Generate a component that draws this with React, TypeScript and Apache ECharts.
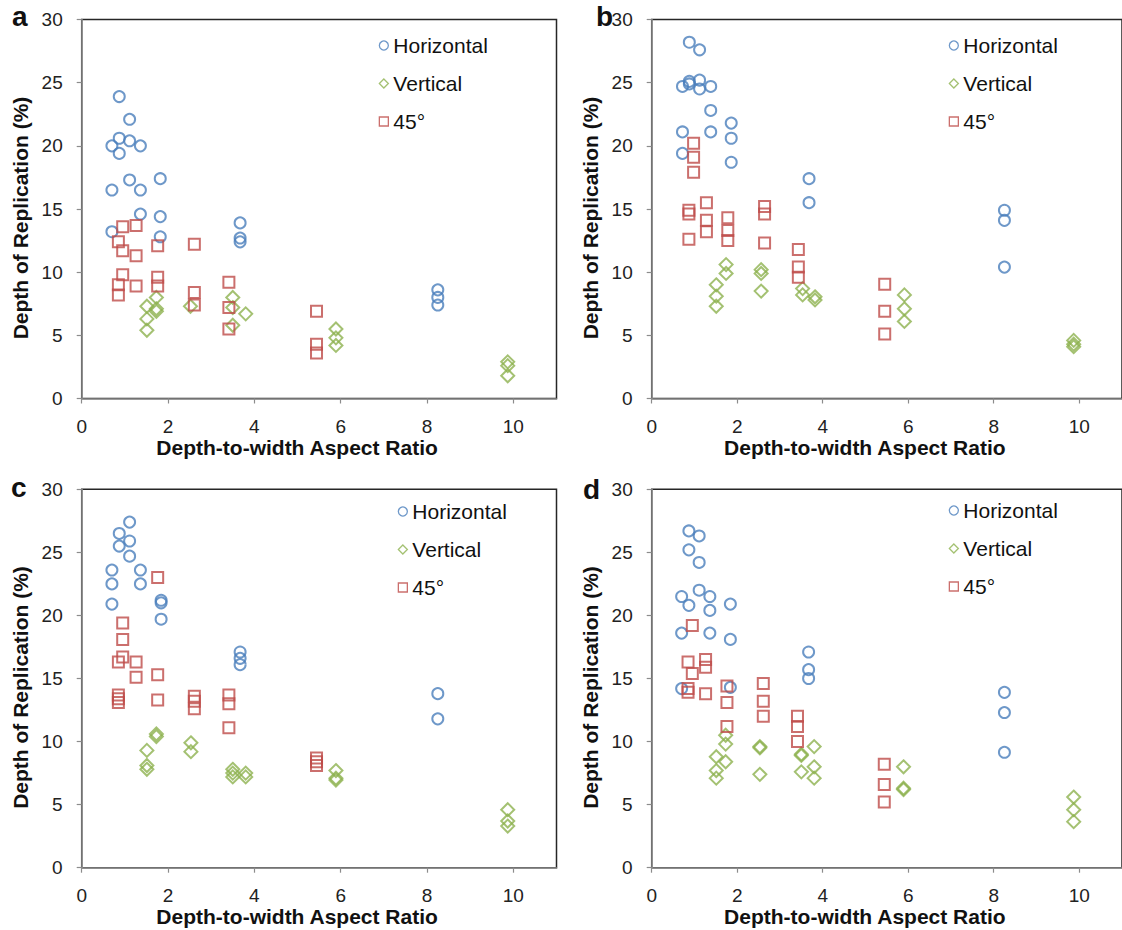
import React, { useEffect, useRef } from "react";
import * as echarts from "echarts";

// ---- Data (aspect ratio, depth of replication %) ----
const aHorizontal = [[0.87,23.9],[1.11,22.1],[0.87,20.6],[0.70,20.0],[0.87,19.4],[1.11,20.4],[1.36,20.0],[1.11,17.3],[0.70,16.5],[1.36,16.5],[1.82,17.4],[1.36,14.6],[1.82,14.4],[0.70,13.2],[1.82,12.8],[3.67,13.9],[3.67,12.7],[3.67,12.4],[8.25,8.6],[8.25,8.0],[8.25,7.4]];
const aVertical = [[1.73,8.0],[1.51,7.3],[1.73,7.1],[1.73,6.9],[1.51,6.3],[1.51,5.4],[2.52,7.3],[3.50,8.0],[3.50,7.2],[3.80,6.7],[3.50,5.8],[5.89,5.5],[5.89,4.8],[5.89,4.2],[9.87,2.9],[9.87,2.6],[9.87,1.8]];
const a45 = [[0.95,13.6],[1.26,13.7],[0.85,12.4],[0.95,11.7],[1.26,11.3],[1.76,12.1],[2.61,12.2],[0.95,9.8],[0.85,9.0],[0.85,8.2],[1.26,8.9],[1.76,9.6],[1.76,8.9],[2.61,8.4],[2.61,7.4],[3.41,9.2],[3.41,7.2],[3.41,5.5],[5.44,6.9],[5.44,4.3],[5.44,3.6]];

const bHorizontal = [[0.88,28.2],[1.12,27.6],[0.72,24.7],[0.88,24.9],[0.88,25.1],[1.12,25.2],[1.12,24.5],[1.38,24.7],[1.38,22.8],[0.72,21.1],[1.38,21.1],[1.86,21.8],[1.86,20.6],[1.86,18.7],[0.72,19.4],[3.68,17.4],[3.68,15.5],[8.25,14.9],[8.25,14.1],[8.25,10.4]];
const bVertical = [[1.74,10.6],[1.74,9.9],[1.51,9.0],[1.51,8.1],[1.51,7.3],[2.56,10.2],[2.56,9.9],[2.56,8.5],[3.53,8.7],[3.53,8.2],[3.82,8.05],[3.82,7.8],[5.91,8.2],[5.91,7.1],[5.91,6.1],[9.87,4.6],[9.87,4.3],[9.87,4.1]];
const b45 = [[0.98,20.2],[0.98,19.1],[0.98,17.9],[0.87,14.9],[0.87,14.6],[0.87,12.6],[1.28,15.5],[1.28,14.1],[1.28,13.2],[1.78,14.3],[1.78,13.3],[1.78,12.5],[2.64,15.2],[2.64,14.6],[2.64,12.3],[3.43,11.8],[3.43,10.4],[3.43,9.6],[5.45,9.05],[5.45,6.9],[5.45,5.1]];

const cHorizontal = [[1.11,27.4],[0.87,26.5],[1.11,25.9],[0.87,25.5],[1.11,24.7],[0.70,23.6],[1.36,23.6],[0.70,22.5],[1.36,22.5],[0.70,20.9],[1.84,21.2],[1.84,21.0],[1.84,19.7],[3.67,17.1],[3.67,16.6],[3.67,16.1],[8.25,13.8],[8.25,11.8]];
const cVertical = [[1.73,10.6],[1.73,10.4],[1.51,9.3],[1.51,8.1],[1.51,7.8],[2.53,9.9],[2.53,9.2],[3.50,7.8],[3.50,7.5],[3.50,7.2],[3.80,7.5],[3.80,7.2],[5.89,7.7],[5.89,7.1],[5.89,6.95],[9.87,4.6],[9.87,3.7],[9.87,3.3]];
const c45 = [[1.76,23.0],[0.95,19.4],[0.95,18.1],[0.95,16.7],[0.85,16.3],[1.26,16.3],[1.26,15.1],[1.76,15.3],[0.85,13.7],[0.85,13.4],[0.85,13.1],[1.76,13.3],[2.61,13.6],[2.61,13.2],[2.61,12.6],[3.41,13.7],[3.41,13.0],[3.41,11.1],[5.44,8.7],[5.44,8.4],[5.44,8.1]];

const dHorizontal = [[0.87,26.7],[1.11,26.3],[0.87,25.2],[1.11,24.2],[1.11,22.0],[0.70,21.5],[1.36,21.5],[0.87,20.8],[1.36,20.4],[1.84,20.9],[0.70,18.6],[1.36,18.6],[1.84,18.1],[0.70,14.2],[1.84,14.3],[3.67,17.1],[3.67,15.7],[3.67,15.0],[8.25,13.9],[8.25,12.3],[8.25,9.15]];
const dVertical = [[1.73,10.5],[1.73,9.8],[1.73,8.4],[1.51,8.8],[1.51,7.7],[1.51,7.1],[2.53,9.6],[2.53,9.5],[2.53,7.4],[3.50,9.0],[3.50,8.9],[3.50,7.6],[3.80,9.6],[3.80,8.0],[3.80,7.1],[5.89,8.0],[5.89,6.3],[5.89,6.2],[9.87,5.6],[9.87,4.6],[9.87,3.65]];
const d45 = [[0.95,19.2],[0.85,16.3],[1.26,16.5],[1.26,15.9],[0.95,15.4],[0.85,14.2],[0.85,13.9],[1.26,13.8],[1.76,14.4],[1.76,13.1],[1.76,11.2],[2.61,14.6],[2.61,13.2],[2.61,12.0],[3.41,12.0],[3.41,11.2],[3.41,10.0],[5.44,8.2],[5.44,6.6],[5.44,5.2]];

const seriesNames = ["Horizontal", "Vertical", "45°"];
const panelLabels = ["a", "b", "c", "d"];
const xTicks = [0, 2, 4, 6, 8, 10];
const xTitle = "Depth-to-width Aspect Ratio";
const yTitle = "Depth of Replication (%)";

const panels = [
  [aHorizontal, aVertical, a45],
  [bHorizontal, bVertical, b45],
  [cHorizontal, cVertical, c45],
  [dHorizontal, dVertical, d45],
];

const FONT = "'Liberation Sans', Arial, sans-serif";
const COLORS = ["#4A7EBB", "#8DB24F", "#BE4B48"];
const SYMBOLS = ["circle", "diamond", "rect"];
const SIZES = [11, 13, 11];

// layout
const grids = [
  { left: 81.7, top: 19.5, width: 474.8, height: 379 },
  { left: 651.7, top: 19.5, width: 474.8, height: 379 },
  { left: 81.7, top: 489.3, width: 474.8, height: 378.4 },
  { left: 651.7, top: 489.3, width: 474.8, height: 378.4 },
];
const legendPos = [
  { left: 378.7, top: 35 },
  { left: 948.7, top: 35 },
  { left: 397.7, top: 501 },
  { left: 948.7, top: 500 },
];
const letterPos = [
  { x: 12, y: 2 },
  { x: 596, y: 2 },
  { x: 11, y: 473 },
  { x: 583, y: 475 },
];

export default function App() {
  const ref = useRef<HTMLDivElement>(null);
  useEffect(() => {
    document.body.style.margin = "0";
    const chart = echarts.init(ref.current!, null, { renderer: "svg" });
    const series: any[] = [];
    panels.forEach((p, gi) => {
      p.forEach((data, si) => {
        series.push({
          type: "scatter",
          name: seriesNames[si],
          xAxisIndex: gi,
          yAxisIndex: gi,
          data,
          symbol: SYMBOLS[si],
          symbolSize: SIZES[si],
          itemStyle: { color: "rgba(0,0,0,0)", borderColor: COLORS[si], borderWidth: 2 },
          emphasis: { disabled: true },
        });
      });
    });
    chart.setOption({
      animation: false,
      backgroundColor: "#ffffff",
      textStyle: { fontFamily: FONT },
      grid: grids.map((g) => ({ ...g, show: true, borderColor: "#262626", borderWidth: 1.5, backgroundColor: "transparent" })),
      xAxis: grids.map((_, i) => ({
        type: "value",
        gridIndex: i,
        min: 0,
        max: 11,
        interval: 2,
        splitLine: { show: false },
        axisLine: { show: true, onZero: false, lineStyle: { color: "#8c8c8c", width: 1.5 } },
        axisTick: { show: true, customValues: xTicks, length: 5, lineStyle: { color: "#8c8c8c", width: 1.2 } },
        axisLabel: { customValues: xTicks, margin: 18, fontSize: 19, color: "#222", fontFamily: FONT },
        name: xTitle,
        nameLocation: "middle",
        nameGap: 38,
        nameTextStyle: { fontSize: 21, fontWeight: "bold", color: "#111", fontFamily: FONT, padding: [0, 44, 0, 0] },
      })),
      yAxis: grids.map((_, i) => ({
        type: "value",
        gridIndex: i,
        min: 0,
        max: 30,
        interval: 5,
        splitLine: { show: false },
        axisLine: { show: true, onZero: false, lineStyle: { color: "#8c8c8c", width: 1.5 } },
        axisTick: { show: true, length: 5, lineStyle: { color: "#8c8c8c", width: 1.2 } },
        axisLabel: { margin: 19, fontSize: 19, color: "#222", fontFamily: FONT },
        name: yTitle,
        nameLocation: "middle",
        nameGap: 51,
        nameTextStyle: { fontSize: 21, fontWeight: "bold", color: "#111", fontFamily: FONT, padding: [0, 18, 0, 0] },
      })),
      legend: legendPos.map((lp) => ({
        ...lp,
        orient: "vertical",
        padding: 0,
        data: seriesNames,
        itemWidth: 9,
        itemHeight: 9,
        itemGap: 17,
        selectedMode: false,
        itemStyle: { borderWidth: 1.3 },
        textStyle: { fontSize: 21, lineHeight: 20, color: "#111", fontFamily: FONT },
      })),
      graphic: panelLabels.map((t, i) => ({
        type: "text",
        left: letterPos[i].x,
        top: letterPos[i].y,
        style: { text: t, fill: "#111", font: `bold 28px ${FONT}` },
      })),
      series,
    });
    return () => chart.dispose();
  }, []);
  return <div ref={ref} style={{ width: 1122, height: 930 }} />;
}
